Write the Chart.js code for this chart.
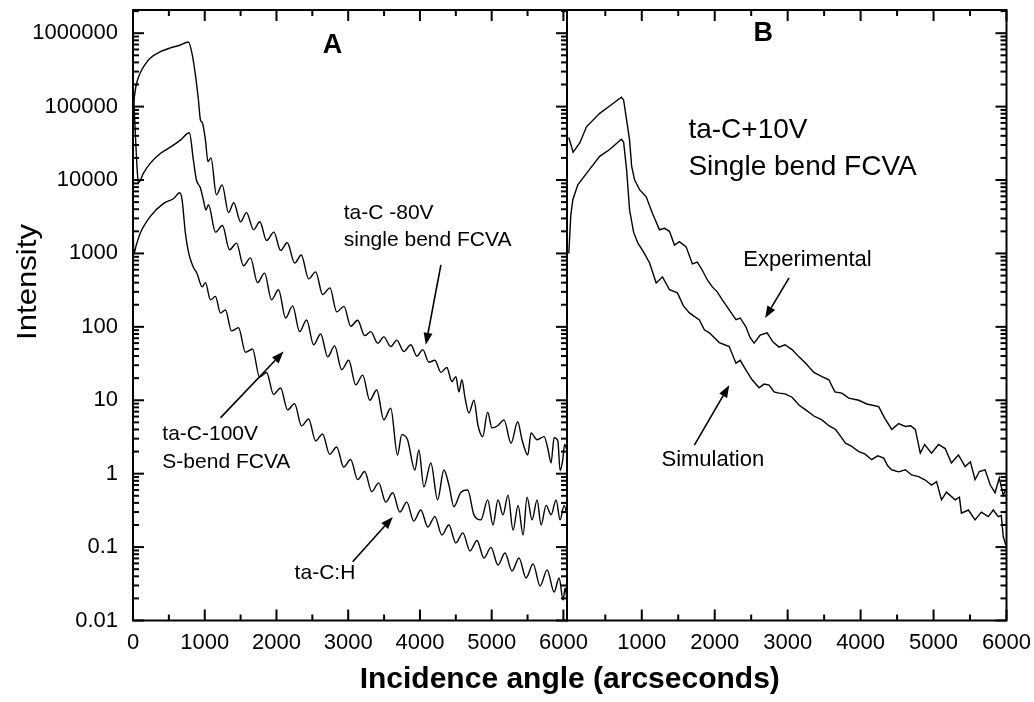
<!DOCTYPE html>
<html>
<head>
<meta charset="utf-8">
<script src="https://cdn.jsdelivr.net/npm/chart.js@4.4.1/dist/chart.umd.min.js"></script>
<style>
  html, body { margin: 0; padding: 0; background: #fff; }
  #wrap { width: 1034px; height: 702px; }
</style>
</head>
<body>
<div id="wrap"><canvas id="grafico" width="1034" height="702"></canvas></div>
<script>
// Panel A: ta-C -80V (curva superior)
const topAx = [0, 46, 102, 172, 242, 381, 521, 661, 772, 828, 870, 912, 940, 968, 1010, 1045, 1087, 1163, 1243, 1331, 1405, 1499, 1582, 1680, 1768, 1862, 1964, 2057, 2151, 2253, 2346, 2448, 2546, 2644, 2746, 2839, 2941, 3035, 3132, 3230, 3314, 3412, 3496, 3593, 3677, 3775, 3873, 3957, 4040, 4124, 4208, 4292, 4375, 4445, 4501, 4543, 4585, 4627, 4683, 4753, 4808, 4874, 4944, 5004, 5084, 5172, 5270, 5363, 5423, 5503, 5549, 5633, 5731, 5787, 5828, 5870, 5922, 5954, 5991, 6017, 6050];
const topAy = [1.0e5, 2.0e5, 2.9e5, 3.8e5, 4.6e5, 5.6e5, 6.3e5, 6.9e5, 7.6e5, 5.0e5, 2.7e5, 1.23e5, 6.6e4, 6.0e4, 3.5e4, 1.78e4, 2.0e4, 6300, 8600, 3600, 4900, 2700, 3600, 2100, 2700, 1500, 1950, 1100, 1400, 740, 950, 450, 560, 275, 340, 160, 190, 102, 123, 76, 86, 60, 73, 54, 66, 46, 57, 40, 49, 33, 35, 24, 28, 18, 21, 13, 19, 11, 6.7, 10, 4.6, 3.2, 6.9, 4.2, 4.5, 5.4, 2.6, 5.1, 2.9, 1.8, 3.6, 2.9, 3.2, 2.1, 1.4, 3.1, 2.8, 1.1, 1.55, 2.5, 2.1];

// Panel A: ta-C-100V S-bend (curva del medio)
const midAx = [0, 25, 60, 74, 148, 242, 381, 521, 661, 786, 842, 884, 940, 982, 1017, 1052, 1149, 1247, 1345, 1443, 1540, 1638, 1736, 1834, 1931, 2029, 2127, 2225, 2323, 2420, 2518, 2616, 2714, 2811, 2909, 3007, 3105, 3202, 3300, 3398, 3496, 3593, 3687, 3747, 3827, 3929, 3985, 4055, 4152, 4246, 4334, 4404, 4473, 4571, 4665, 4753, 4850, 4944, 5018, 5088, 5158, 5228, 5298, 5368, 5438, 5493, 5563, 5633, 5689, 5759, 5828, 5898, 5954, 6010, 6050];
const midAy = [2.3e5, 6.2e4, 1.3e4, 9100, 1.25e4, 1.7e4, 2.3e4, 2.8e4, 3.5e4, 4.4e4, 1.86e4, 1.0e4, 7800, 5300, 3900, 4600, 1950, 2400, 1120, 1380, 680, 870, 400, 540, 233, 320, 132, 193, 86, 124, 57, 80, 39, 55, 26, 35, 16.2, 22, 10, 13.8, 5.4, 7.8, 1.8, 3.4, 2.9, 1.12, 2.1, 0.66, 1.4, 0.44, 1.12, 0.70, 0.355, 0.56, 0.60, 0.275, 0.235, 0.44, 0.2, 0.44, 0.275, 0.51, 0.17, 0.37, 0.146, 0.48, 0.235, 0.44, 0.2, 0.37, 0.275, 0.44, 0.235, 0.37, 0.275];

// Panel A: ta-C:H (curva inferior)
const lowAx = [0, 12, 46, 102, 242, 427, 567, 651, 684, 730, 777, 838, 894, 964, 1010, 1080, 1149, 1219, 1289, 1373, 1471, 1568, 1666, 1764, 1862, 1959, 2057, 2155, 2252, 2350, 2448, 2546, 2643, 2741, 2839, 2937, 3034, 3132, 3230, 3328, 3425, 3523, 3621, 3719, 3817, 3914, 4012, 4110, 4208, 4306, 4403, 4501, 4599, 4697, 4795, 4892, 4990, 5088, 5186, 5284, 5381, 5479, 5577, 5675, 5773, 5870, 5940, 5996, 6024, 6050];
const lowAy = [3400, 1000, 1300, 1900, 3200, 4800, 5600, 6700, 5400, 1900, 1000, 660, 530, 350, 400, 233, 260, 154, 170, 88, 97, 45, 50, 20.7, 23.9, 12.0, 14.7, 7.4, 9.0, 4.47, 5.56, 2.79, 3.47, 1.83, 2.31, 1.23, 1.56, 0.83, 1.07, 0.57, 0.75, 0.41, 0.55, 0.30, 0.41, 0.226, 0.32, 0.188, 0.26, 0.146, 0.20, 0.114, 0.156, 0.0885, 0.123, 0.071, 0.099, 0.057, 0.083, 0.047, 0.071, 0.038, 0.059, 0.0295, 0.049, 0.0244, 0.038, 0.019, 0.0277, 0.019];

// Panel B: Experimental
const expBx = [0, 59, 150, 242, 423, 560, 720, 751, 792, 833, 861, 902, 970, 1061, 1147, 1243, 1311, 1380, 1448, 1516, 1608, 1694, 1762, 1830, 1899, 1967, 2035, 2104, 2199, 2291, 2350, 2427, 2486, 2541, 2623, 2718, 2800, 2882, 2964, 3060, 3155, 3247, 3360, 3470, 3565, 3647, 3743, 3838, 3975, 4084, 4248, 4330, 4426, 4521, 4613, 4685, 4750, 4818, 4877, 4972, 5068, 5159, 5245, 5341, 5433, 5505, 5569, 5628, 5706, 5778, 5843, 5901, 5956, 5990];
const expBy = [3.8e4, 2.4e4, 3.2e4, 5.3e4, 8.1e4, 1.02e5, 1.34e5, 1.23e5, 6.6e4, 3.5e4, 1.55e4, 1.0e4, 7400, 5900, 3500, 2100, 2200, 2000, 1300, 1450, 1230, 720, 760, 590, 435, 350, 300, 233, 170, 125, 132, 100, 71, 60, 77, 83, 62, 53, 57, 49, 39, 32, 24, 21, 19, 13, 12.5, 10.7, 10, 8.9, 8.2, 5.7, 4.0, 4.8, 4.4, 4.5, 4.0, 1.9, 2.5, 1.9, 2.5, 2.2, 1.4, 1.8, 1.25, 1.45, 0.83, 1.07, 1.13, 0.7, 0.55, 0.87, 0.51, 0.6];

// Panel B: Simulation
const simBx = [0, 27, 55, 123, 242, 423, 560, 720, 751, 792, 833, 888, 947, 1024, 1107, 1198, 1284, 1380, 1489, 1571, 1653, 1790, 1858, 1926, 2063, 2199, 2291, 2350, 2427, 2513, 2609, 2677, 2746, 2814, 2882, 2964, 3060, 3155, 3247, 3360, 3470, 3565, 3657, 3729, 3793, 3866, 3975, 4057, 4153, 4235, 4317, 4371, 4426, 4521, 4613, 4699, 4795, 4886, 4972, 5041, 5109, 5177, 5296, 5355, 5382, 5478, 5569, 5655, 5751, 5819, 5887, 5928, 5956, 5990];
const simBy = [1000, 3300, 5400, 8600, 1.23e4, 2.1e4, 2.6e4, 3.6e4, 3.3e4, 1.38e4, 3900, 1950, 1380, 1050, 740, 395, 480, 320, 290, 193, 155, 124, 91, 83, 61, 54, 32, 35, 26, 19, 14.8, 16.6, 16.1, 13, 12.5, 12.2, 11, 8.6, 7.4, 6.1, 5.4, 4.5, 4.0, 3.2, 2.6, 2.4, 2.0, 1.86, 1.55, 1.75, 1.63, 1.28, 1.13, 1.06, 1.13, 0.96, 0.91, 0.82, 0.70, 0.78, 0.44, 0.56, 0.44, 0.48, 0.29, 0.32, 0.235, 0.30, 0.26, 0.32, 0.26, 0.27, 0.138, 0.107];

// Ticks
const yTicks = [0.01, 0.1, 1, 10, 100, 1000, 10000, 100000, 1000000];
const xTicksA = [0, 1000, 2000, 3000, 4000, 5000, 6000];
const xTicksB = [1000, 2000, 3000, 4000, 5000, 6000];
const xMinor = [500, 1500, 2500, 3500, 4500, 5500];

const fuente = "'Liberation Sans', Arial, Helvetica, sans-serif";

// Textos y flechas en coordenadas de datos
const notas = [
    { eje: 'xA', x: 2780, y: 6.7e5, texto: 'A', tam: 27, negrita: true, alin: 'center' },
    { eje: 'xB', x: 2664, y: 1.0e6, texto: 'B', tam: 27, negrita: true, alin: 'center' },
    { eje: 'xA', x: 2938, y: 3550, texto: 'ta-C -80V', tam: 21 },
    { eje: 'xA', x: 2938, y: 1530, texto: 'single bend FCVA', tam: 21 },
    { eje: 'xA', x: 409, y: 3.4, texto: 'ta-C-100V', tam: 21 },
    { eje: 'xA', x: 409, y: 1.45, texto: 'S-bend FCVA', tam: 21 },
    { eje: 'xA', x: 2253, y: 0.0443, texto: 'ta-C:H', tam: 21 },
    { eje: 'xB', x: 1639, y: 4.8e4, texto: 'ta-C+10V', tam: 28 },
    { eje: 'xB', x: 1639, y: 1.5e4, texto: 'Single bend FCVA', tam: 28 },
    { eje: 'xB', x: 2391, y: 810, texto: 'Experimental', tam: 22 },
    { eje: 'xB', x: 1270, y: 1.55, texto: 'Simulation', tam: 22 }
];

const flechas = [
    { eje: 'xA', x1: 4292, y1: 700, x2: 4082, y2: 57 },
    { eje: 'xA', x1: 1219, y1: 5.75, x2: 2099, y2: 46 },
    { eje: 'xA', x1: 3062, y1: 0.063, x2: 3621, y2: 0.257 },
    { eje: 'xB', x1: 3019, y1: 464, x2: 2691, y2: 132 },
    { eje: 'xB', x1: 1721, y1: 2.45, x2: 2199, y2: 16 }
];

// suave: curvas del panel A con oscilaciones redondeadas
function serie(xs, ys, eje, suave) {
    return {
        data: xs.map((x, i) => ({ x: x, y: ys[i] })),
        xAxisID: eje,
        yAxisID: 'y',
        borderColor: '#000',
        borderWidth: 1.4,
        pointRadius: 0,
        tension: suave ? 0.4 : 0,
        cubicInterpolationMode: suave ? 'monotone' : 'default',
        fill: false
    };
}

// Marco, ticks hacia adentro, textos y flechas
const marco = {
    id: 'marco',
    afterDraw(chart) {
        const { ctx, chartArea } = chart;
        const top = chartArea.top, bottom = chartArea.bottom;
        const y = chart.scales.y, xA = chart.scales.xA, xB = chart.scales.xB;
        ctx.save();
        ctx.strokeStyle = '#000';
        ctx.fillStyle = '#000';
        ctx.lineWidth = 2;

        [xA, xB].forEach(s => ctx.strokeRect(s.left, top, s.right - s.left, bottom - top));

        function tickX(s, valores, largo) {
            valores.forEach(v => {
                const px = s.getPixelForValue(v);
                ctx.beginPath();
                ctx.moveTo(px, bottom); ctx.lineTo(px, bottom - largo);
                ctx.moveTo(px, top); ctx.lineTo(px, top + largo);
                ctx.stroke();
            });
        }
        tickX(xA, xTicksA, 11); tickX(xA, xMinor, 6);
        tickX(xB, xTicksB, 11); tickX(xB, xMinor, 6);

        const bordes = [[xA.left, 1], [xA.right, -1], [xB.right, -1]];
        function tickY(v, largo) {
            const py = y.getPixelForValue(v);
            bordes.forEach(([bx, dir]) => {
                ctx.beginPath();
                ctx.moveTo(bx, py); ctx.lineTo(bx + dir * largo, py);
                ctx.stroke();
            });
        }
        yTicks.forEach(d => {
            tickY(d, 11);
            for (let m = 2; m <= 9; m++) {
                if (m * d <= y.max) tickY(m * d, 6);
            }
        });

        ctx.textBaseline = 'middle';
        notas.forEach(n => {
            const s = chart.scales[n.eje];
            ctx.font = (n.negrita ? 'bold ' : '') + n.tam + 'px ' + fuente;
            ctx.textAlign = n.alin || 'left';
            ctx.fillText(n.texto, s.getPixelForValue(n.x), y.getPixelForValue(n.y));
        });

        ctx.lineWidth = 1.6;
        flechas.forEach(f => {
            const s = chart.scales[f.eje];
            const x1 = s.getPixelForValue(f.x1), y1 = y.getPixelForValue(f.y1);
            const x2 = s.getPixelForValue(f.x2), y2 = y.getPixelForValue(f.y2);
            const ang = Math.atan2(y2 - y1, x2 - x1);
            const largo = 12, ancho = 4.5;
            const bx = x2 - largo * Math.cos(ang), by = y2 - largo * Math.sin(ang);
            ctx.beginPath();
            ctx.moveTo(x1, y1); ctx.lineTo(bx, by);
            ctx.stroke();
            ctx.beginPath();
            ctx.moveTo(x2, y2);
            ctx.lineTo(bx + ancho * Math.sin(ang), by - ancho * Math.cos(ang));
            ctx.lineTo(bx - ancho * Math.sin(ang), by + ancho * Math.cos(ang));
            ctx.closePath();
            ctx.fill();
        });

        // Titulo del eje Y
        ctx.save();
        ctx.translate(28, 282);
        ctx.rotate(-Math.PI / 2);
        ctx.font = '28px ' + fuente;
        const w = ctx.measureText('Intensity').width;
        ctx.scale(116 / w, 1);
        ctx.textAlign = 'center';
        ctx.fillText('Intensity', 0, 0);
        ctx.restore();

        ctx.restore();
    }
};

const ejeX = (ticks, min, max, peso) => ({
    type: 'linear',
    position: 'bottom',
    stack: 'x',
    stackWeight: peso,
    min: min,
    max: max,
    afterBuildTicks: s => { s.ticks = ticks.map(v => ({ value: v })); },
    afterFit: s => { s.height = 41.5; s.paddingLeft = 0; s.paddingRight = 0; },
    grid: { display: false, drawTicks: false },
    border: { display: false },
    ticks: {
        autoSkip: false,
        maxRotation: 0,
        padding: 9,
        color: '#000',
        font: { family: fuente, size: 22 },
        callback: v => String(v)
    }
});

const ctx = document.getElementById('grafico').getContext('2d');
const grafico = new Chart(ctx, {
    type: 'line',
    data: {
        datasets: [
            serie(topAx, topAy, 'xA', true),
            serie(midAx, midAy, 'xA', true),
            serie(lowAx, lowAy, 'xA', true),
            serie(expBx, expBy, 'xB', false),
            serie(simBx, simBy, 'xB', false)
        ]
    },
    options: {
        responsive: false,
        animation: false,
        events: [],
        layout: { padding: { left: 0, right: 27.5, top: 10, bottom: 0 } },
        plugins: {
            legend: { display: false },
            tooltip: { enabled: false },
            title: {
                display: true,
                position: 'bottom',
                fullSize: false,
                text: 'Incidence angle (arcseconds)',
                color: '#000',
                font: { family: fuente, size: 30, weight: 'bold' },
                padding: { top: 0, bottom: 4 }
            }
        },
        scales: {
            y: {
                type: 'logarithmic',
                position: 'left',
                min: 0.01,
                max: 2.07e6,
                afterBuildTicks: s => { s.ticks = yTicks.map(v => ({ value: v })); },
                afterFit: s => { s.width = 133; s.paddingTop = 0; s.paddingBottom = 0; },
                grid: { display: false, drawTicks: false },
                border: { display: false },
                ticks: {
                    autoSkip: false,
                    padding: 15,
                    color: '#000',
                    font: { family: fuente, size: 22 },
                    callback: v => String(v)
                }
            },
            xA: ejeX(xTicksA, 0, 6050, 434),
            xB: ejeX(xTicksB, -25, 6000, 439.5)
        }
    },
    plugins: [marco]
});
</script>
</body>
</html>
